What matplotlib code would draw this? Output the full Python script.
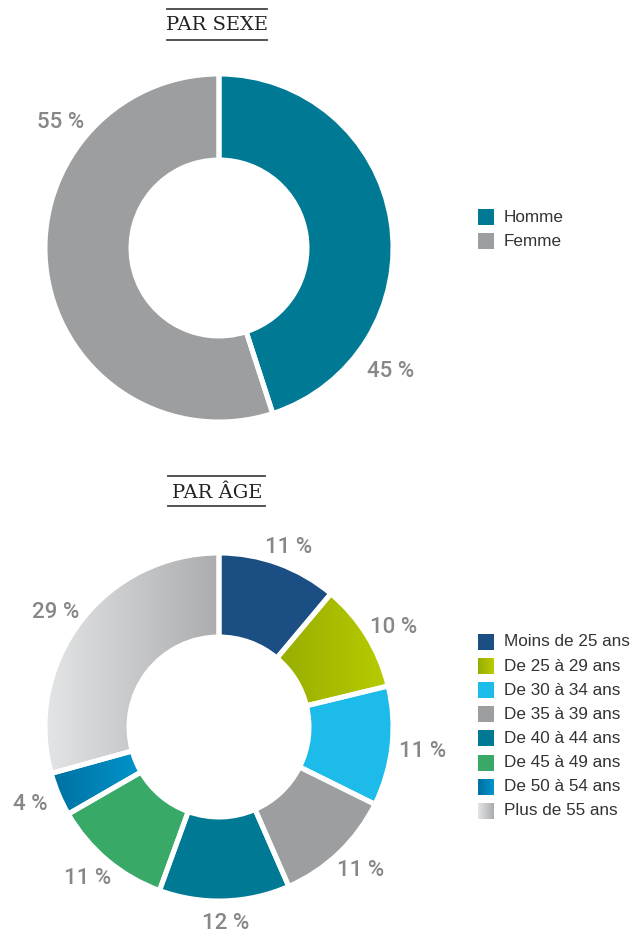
import numpy as np
import matplotlib.pyplot as plt
from matplotlib.colors import LinearSegmentedColormap
from matplotlib.patches import Rectangle, Wedge

W, H = 632, 934

sexe_labels = ["Homme", "Femme"]
sexe_values = [45, 55]
sexe_colors = ["#007a94", "#9d9ea0"]

age_labels = ["Moins de 25 ans", "De 25 à 29 ans", "De 30 à 34 ans", "De 35 à 39 ans",
              "De 40 à 44 ans", "De 45 à 49 ans", "De 50 à 54 ans", "Plus de 55 ans"]
age_values = [11, 10, 11, 11, 12, 11, 4, 29]
# a tuple means a left-to-right gradient
age_colors = ["#1b4e82", ("#98ad00", "#b8cc00"), "#1cbbe9", "#9d9ea0",
              "#007a94", "#38a966", ("#0070a0", "#0094cc"), ("#e4e5e6", "#abacae")]

LABEL_FONT = "Roboto"
LABEL_GREY = "#868789"


def py(y):
    return H - y


def gradient_fill(ax, patch, c0, c1):
    cmap = LinearSegmentedColormap.from_list("grad", [c0, c1])
    if isinstance(patch, Rectangle):
        bb = patch.get_bbox()
    else:
        bb = patch.get_path().get_extents()
    im = ax.imshow(np.linspace(0, 1, 256).reshape(1, -1), cmap=cmap,
                   extent=(bb.x0, bb.x1, bb.y0, bb.y1), aspect="auto",
                   interpolation="bilinear", zorder=2)
    im.set_clip_path(patch)


def donut(ax, values, colors, cx, cy, r, width):
    wedges, _ = ax.pie(values, center=(cx, py(cy)), radius=r, startangle=90,
                       counterclock=False,
                       colors=[c if isinstance(c, str) else c[0] for c in colors],
                       wedgeprops=dict(width=width, edgecolor="none"))
    for w, c in zip(wedges, colors):
        w.set_zorder(1)
        if not isinstance(c, str):
            gradient_fill(ax, w, c[0], c[1])
        # white separators drawn on top of fills
        ax.add_patch(Wedge(w.center, w.r, w.theta1, w.theta2, width=w.width,
                           facecolor="none", edgecolor="white", linewidth=3.6, zorder=3))
    return wedges


def title(ax, text, x, y, x0, x1, top, bottom):
    ax.text(x, py(y), text, ha="center", va="center", fontsize=14,
            family="DejaVu Serif", color="#222222")
    for yy in (top, bottom):
        ax.plot([x0, x1], [py(yy), py(yy)], color="#444444", lw=1.3)


def legend(ax, labels, colors, x, y0, step):
    for i, (lab, c) in enumerate(zip(labels, colors)):
        y = y0 + i * step
        sq = Rectangle((x, py(y + 8)), 16, 16, facecolor=c if isinstance(c, str) else c[0],
                       edgecolor="none", zorder=1)
        ax.add_patch(sq)
        if not isinstance(c, str):
            gradient_fill(ax, sq, c[0], c[1])
        ax.text(x + 26, py(y), lab, ha="left", va="center", fontsize=12.3,
                family="Liberation Sans", color="#333333")


def pct_label(ax, x, y, val):
    # nudge down a touch: va="center" counts the descent of the font
    ax.text(x, y - 3, f"{val} %", ha="center", va="center", fontsize=16,
            fontweight="medium", family=LABEL_FONT, color=LABEL_GREY)


fig = plt.figure(figsize=(W / 100, H / 100), dpi=100)
ax = fig.add_axes([0, 0, 1, 1])

# par sexe
title(ax, "PAR SEXE", 217, 25, 167, 267, 9, 40)
donut(ax, sexe_values, sexe_colors, 219, 248, 174, 86)
for val, ang, dist in zip(sexe_values, [-35, 141], [210, 204]):
    a = np.deg2rad(ang)
    pct_label(ax, 219 + dist * np.cos(a), py(248) + dist * np.sin(a), val)
legend(ax, sexe_labels, sexe_colors, 478, 217, 24)

# par âge
title(ax, "PAR ÂGE", 217, 493, 168, 265, 476, 506)
cx, cy = 219, 727
wedges = donut(ax, age_values, age_colors, cx, cy, 174, 84)
for val, w in zip(age_values, wedges):
    a = np.deg2rad((w.theta1 + w.theta2) / 2)
    pct_label(ax, cx + 205 * np.cos(a), py(cy) + 194 * np.sin(a), val)
legend(ax, age_labels, age_colors, 478, 642, 24.1)

ax.set_xlim(0, W)
ax.set_ylim(0, H)
ax.set_aspect("equal")
ax.axis("off")
fig.savefig("out.png", dpi=100, facecolor="white")
